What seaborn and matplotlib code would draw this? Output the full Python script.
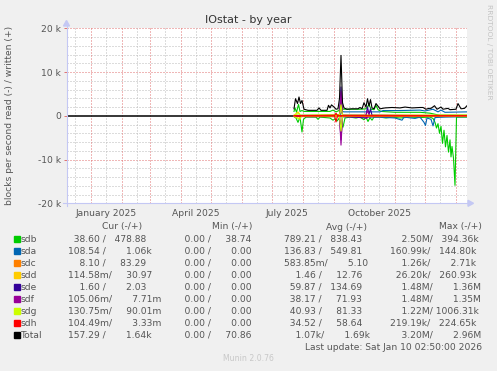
import pandas as pd
import seaborn as sns
import matplotlib.pyplot as plt
from matplotlib.lines import Line2D
from matplotlib.patches import Polygon, Rectangle

W, H = 497, 371
BASE = pd.Timestamp("2025-01-01")

# x = days after 2025-01-01, y = thousands of blocks per second
# "w" = written (plotted up), "r" = read (plotted down)
sdb_w_days = [203.5, 204.5, 206, 208, 209.5, 211.5, 213.5, 239.5, 242.5, 245.5, 248.5, 250.5, 252.5,
              257.5, 269.5, 275.5, 278.5, 280.5, 283.5, 285.5, 287.5, 290.5, 304.5, 329.5, 339.5,
              345.5, 349.5, 376.5]
sdb_w = [1.0, 1.8, 0.8, 2.6, 1.0, 1.2, 1.0, 1.0, 1.3, 0.9, 1.2, 3.0, 1.5,
         1.5, 1.5, 1.6, 2.6, 1.5, 1.4, 2.4, 1.4, 1.0, 0.8, 0.8, 0.6,
         0.3, 0.15, 0.15]
sdb_r_days = [203.5, 205.5, 207.5, 209.5, 211.5, 213, 215.5, 225.5, 227.5, 229.5, 239.5, 242.5, 244.5,
              246.5, 248.5, 250.5, 252.5, 254.5, 259.5, 265.5, 269.5, 273.5, 275.5, 277.5, 279.5,
              281.5, 283.5, 289.5, 295.5, 301.5, 309.5, 319.5, 329.5, 339.5, 342.5, 344.5, 346,
              347.5, 349, 350.5, 352, 353.5, 355, 356.5, 358, 359.5, 360.5, 361.5, 363, 364.5,
              366, 376.5]
sdb_r = [-0.2, -0.5, -1.5, -0.3, -3.7, -0.8, -0.3, -0.3, -0.8, -0.3, -0.5, -1.0, -0.7,
         -1.2, -0.6, -2.0, -2.6, -0.5, -0.3, -0.5, -0.3, -0.9, -0.3, -1.3, -0.4,
         -1.0, -0.3, -0.3, -0.5, -0.3, -0.5, -0.3, -0.4, -0.3, -0.6, -1.5, -2.8,
         -1.8, -4.0, -2.4, -6.3, -3.3, -7.1, -4.5, -8.3, -5.5, -9.4, -7.0, -9.7, -15.9,
         -0.3, -0.3]

sda_w_days = [203.5, 249.5, 251.5, 253.5, 289.5, 292.5, 309.5, 329.5, 334.5, 342.5, 347.5, 350.5, 354.5, 376.5]
sda_w = [0.1, 0.2, 1.0, 0.9, 0.9, 1.2, 1.2, 1.3, 1.1, 1.5, 0.9, 1.3, 0.8, 0.9]
sda_r_days = [203.5, 249.5, 289.5, 304.5, 311.5, 313.5, 324.5, 329.5, 333.5, 335, 336.5, 340.5, 342.5,
              344.5, 354.5, 376.5]
sda_r = [-0.1, -0.2, -0.3, -0.5, -1.0, -0.3, -0.6, -0.3, -1.5, -2.2, -0.5, -0.8, -2.3,
         -0.4, -0.3, -0.2]

sdc_w_days = [203.5, 244, 245.5, 247, 376.5]
sdc_w = [0.05, 0.05, 0.4, 0.05, 0.05]
sdc_r_days = [203.5, 376.5]
sdc_r = [-0.05, -0.05]

sdd_w_days = [203.5, 207.5, 209.5, 249, 250.5, 252, 350, 376.5]
sdd_w = [0.1, 0.9, 0.1, 0.3, 3.5, 0.2, 0.15, 0.15]
sdd_r_days = [203.5, 208.5, 210, 249, 250.5, 252, 376.5]
sdd_r = [-0.1, -0.6, -0.1, -0.2, -4.9, -0.1, -0.1]

sde_w_days = [203.5, 249, 250.5, 252, 275.5, 277, 278.5, 280, 281.5, 376.5]
sde_w = [0.0, 0.1, 6.6, 0.1, 0.1, 2.0, 0.3, 1.6, 0.1, 0.05]
sde_r_days = [203.5, 249, 250.5, 252, 275.5, 277, 376.5]
sde_r = [0.0, -0.1, -5.5, -0.1, -0.5, -0.1, -0.05]

sdf_w_days = [203.5, 249, 250.5, 252, 275.5, 277, 279, 376.5]
sdf_w = [0.0, 0.1, 5.5, 0.1, 0.1, 1.2, 0.1, 0.0]
sdf_r_days = [203.5, 216.5, 226.5, 249, 250.5, 252, 262, 274.5, 276, 278, 376.5]
sdf_r = [-0.1, -0.2, -0.2, -0.1, -6.7, -0.2, -0.2, -0.2, -0.6, -0.2, -0.05]

sdg_w_days = [203.5, 208.5, 210, 249, 250.5, 252, 376.5]
sdg_w = [0.1, 0.6, 0.1, 0.1, 2.5, 0.1, 0.1]
sdg_r_days = [203.5, 209.5, 211, 249, 250.5, 252, 376.5]
sdg_r = [-0.1, -0.8, -0.1, -0.1, -3.5, -0.1, -0.1]

sdh_w_days = [203.5, 244, 245.5, 247, 376.5]
sdh_w = [0.0, 0.0, 0.6, 0.0, 0.0]
sdh_r_days = [203.5, 244, 245.5, 247, 376.5]
sdh_r = [0.0, 0.0, -1.4, 0.0, 0.0]

total_w_days = [203.5, 205, 207, 208.5, 210, 211.5, 213.5, 217.5, 226.5, 228.5, 230.5, 236.5, 238,
                239.5, 241, 243.5, 245.5, 247.5, 249, 250.5, 252, 253.5, 256.5, 261.5, 267.5,
                269.5, 271.5, 273.5, 275.5, 277, 278.5, 280, 281.5, 283.5, 285.5, 287.5, 289.5,
                294.5, 301.5, 309.5, 314.5, 321.5, 329.5, 332.5, 335.5, 338.5, 340.5, 344, 346.5,
                350.5, 352.5, 357.5, 359.5, 365.5, 367.5, 370.5, 374, 376.5]
total_w = [1.6, 3.9, 2.8, 4.3, 2.8, 3.5, 1.5, 1.25, 1.25, 1.8, 1.25, 1.25, 2.4,
           1.8, 2.5, 2.0, 1.5, 1.6, 4.0, 13.8, 3.0, 1.8, 1.5, 1.6, 1.6,
           1.9, 1.6, 3.0, 2.0, 3.9, 2.2, 3.7, 1.8, 1.6, 2.8, 2.2, 1.6,
           1.8, 1.9, 1.8, 2.0, 1.8, 1.9, 1.9, 1.5, 1.7, 1.7, 2.3, 1.5,
           2.0, 1.5, 1.7, 1.4, 1.5, 2.8, 1.6, 1.7, 2.3]

names = ["sdb", "sda", "sdc", "sdd", "sde", "sdf", "sdg", "sdh", "Total"]
colors = ["#00CC00", "#0066B3", "#FF8000", "#FFCC00", "#330099", "#990099", "#CCFF00", "#FF0000", "#000000"]

# legend table (read / written)
cur_r = ["38.60", "108.54", "8.10", "114.58m", "1.60", "105.06m", "130.75m", "104.49m", "157.29"]
cur_w = ["478.88", "1.06k", "83.29", "30.97", "2.03", "7.71m", "90.01m", "3.33m", "1.64k"]
min_r = ["0.00", "0.00", "0.00", "0.00", "0.00", "0.00", "0.00", "0.00", "0.00"]
min_w = ["38.74", "0.00", "0.00", "0.00", "0.00", "0.00", "0.00", "0.00", "70.86"]
avg_r = ["789.21", "136.83", "583.85m", "1.46", "59.87", "38.17", "40.93", "34.52", "1.07k"]
avg_w = ["838.43", "549.81", "5.10", "12.76", "134.69", "71.93", "81.33", "58.64", "1.69k"]
max_r = ["2.50M", "160.99k", "1.26k", "26.20k", "1.48M", "1.48M", "1.22M", "219.19k", "3.20M"]
max_w = ["394.36k", "144.80k", "2.71k", "260.93k", "1.36M", "1.35M", "1006.31k", "224.65k", "2.96M"]

month_labels = ["January 2025", "April 2025", "July 2025", "October 2025"]

data = {
    "sdb": [(sdb_r_days, sdb_r), (sdb_w_days, sdb_w)],
    "sda": [(sda_r_days, sda_r), (sda_w_days, sda_w)],
    "sdc": [(sdc_r_days, sdc_r), (sdc_w_days, sdc_w)],
    "sdd": [(sdd_r_days, sdd_r), (sdd_w_days, sdd_w)],
    "sde": [(sde_r_days, sde_r), (sde_w_days, sde_w)],
    "sdf": [(sdf_r_days, sdf_r), (sdf_w_days, sdf_w)],
    "sdg": [(sdg_r_days, sdg_r), (sdg_w_days, sdg_w)],
    "sdh": [(sdh_r_days, sdh_r), (sdh_w_days, sdh_w)],
    "Total": [(total_w_days, total_w)],
}

rows = []
for name, parts in data.items():
    for i, (dd, vv) in enumerate(parts):
        for d, v in zip(dd, vv):
            rows.append({"date": BASE + pd.Timedelta(days=d), "val": v, "disk": name, "part": i})
df = pd.DataFrame(rows)

TXT = "#555555"
fig = plt.figure(figsize=(W / 100, H / 100), dpi=100, facecolor="#F0F0F0")
ax = fig.add_axes([67 / W, 1 - 203.3 / H, 400 / W, 175 / H])
ax.set_facecolor("white")

x0 = BASE + pd.Timedelta(days=-23.5)
x1 = BASE + pd.Timedelta(days=376.5)
ax.set_xlim(x0, x1)
ax.set_ylim(-20, 20)

# grid (rrdtool style dotted lines)
dot = (0, (1, 2))
for v in range(-18, 20, 2):
    if v % 10:
        ax.axhline(v, color="#bbbbbb", lw=0.72, ls=dot, zorder=0)
for v in (-10, 10, 20):
    ax.axhline(v, color="#e07070", lw=0.72, ls=dot, zorder=0)
month_starts = pd.date_range("2024-12-01", "2026-01-01", freq="MS")
for m in month_starts:
    mid = m + pd.Timedelta(days=15)
    if x0 < mid < x1:
        ax.axvline(mid, color="#bbbbbb", lw=0.72, ls=dot, zorder=0)
    if x0 < m < x1:
        ax.axvline(m, color="#e07070", lw=0.72, ls=dot, zorder=0)

ax.axhline(0, color="black", lw=1.1, zorder=1)

sns.lineplot(data=df, x="date", y="val", hue="disk", units="part", estimator=None,
             hue_order=names, palette=dict(zip(names, colors)), sort=False,
             lw=0.8, legend=False, ax=ax)

for s in ax.spines.values():
    s.set_visible(False)
ax.set_xlabel("")
ax.set_ylabel("")
ax.set_yticks([20, 10, 0, -10, -20])
ax.set_yticklabels(["20 k", "10 k", "0", "-10 k", "-20 k"])
ax.tick_params(axis="y", length=2.5, width=0.7, color="#e07070", labelsize=6.6,
               labelcolor=TXT, pad=2)
label_pos = [BASE + pd.Timedelta(days=d) for d in (15.5, 105.5, 196.5, 288.5)]
ax.set_xticks(label_pos)
ax.set_xticklabels(month_labels)
ax.tick_params(axis="x", length=0, labelsize=6.6, labelcolor=TXT, pad=4)

# axis lines with arrows
AX = "#c4c8f4"
fig.add_artist(Line2D([66.5 / W, 66.5 / W], [1 - 206 / H, 1 - 25 / H], color=AX, lw=0.8))
fig.add_artist(Line2D([63 / W, 469 / W], [1 - 203.3 / H, 1 - 203.3 / H], color=AX, lw=0.8))
fig.add_artist(Polygon([(63.5 / W, 1 - 26 / H), (69.5 / W, 1 - 26 / H), (66.5 / W, 1 - 20.5 / H)],
                       closed=True, color=AX, transform=fig.transFigure))
fig.add_artist(Polygon([(468 / W, 1 - 200.3 / H), (468 / W, 1 - 206.3 / H), (473.5 / W, 1 - 203.3 / H)],
                       closed=True, color=AX, transform=fig.transFigure))


def t(x, y, s, **kw):
    kw.setdefault("fontsize", 6.6)
    kw.setdefault("color", TXT)
    kw.setdefault("va", "center")
    fig.text(x / W, 1 - y / H, s, **kw)


t(248, 20, "IOstat - by year", fontsize=8, color="#333333", ha="center")
t(10, 115.7, "blocks per second read (-) / written (+)", rotation=90, ha="center")
t(488.5, 52, "RRDTOOL / TOBI OETIKER", rotation=270, ha="center", fontsize=5.4, color="#c4c4c4")


def split(v):
    if v[-1].isalpha():
        return v[:-1], v[-1]
    return v, " "


def cell(a, b):
    na, ua = split(a)
    nb, ub = split(b)
    pa = "  " * (6 - len(na))
    pb = "  " * (7 - len(nb))
    return pa + na + ua + "/ " + pb + nb + (ub if ub != " " else "")


for x, h in zip((121.7, 232, 346, 460), ("Cur (-/+)", "Min (-/+)", "Avg (-/+)", "Max (-/+)")):
    t(x, 227, h, ha="center")

for i, name in enumerate(names):
    y = 239.3 + 12 * i
    fig.add_artist(Rectangle((14 / W, 1 - (y + 3) / H), 6 / W, 6 / H, color=colors[i],
                             transform=fig.transFigure))
    t(20.5, y, name, ha="left")
    t(68.3, y, cell(cur_r[i], cur_w[i]), ha="left")
    t(173.3, y, cell(min_r[i], min_w[i]), ha="left")
    t(284, y, cell(avg_r[i], avg_w[i]), ha="left")
    t(390, y, cell(max_r[i], max_w[i]), ha="left")

t(481.7, 347.3, "Last update: Sat Jan 10 02:50:00 2026", ha="right")
t(248, 358.3, "Munin 2.0.76", ha="center", fontsize=5.6, color="#c8c8c8")

fig.savefig("out.png", dpi=100, facecolor=fig.get_facecolor())
